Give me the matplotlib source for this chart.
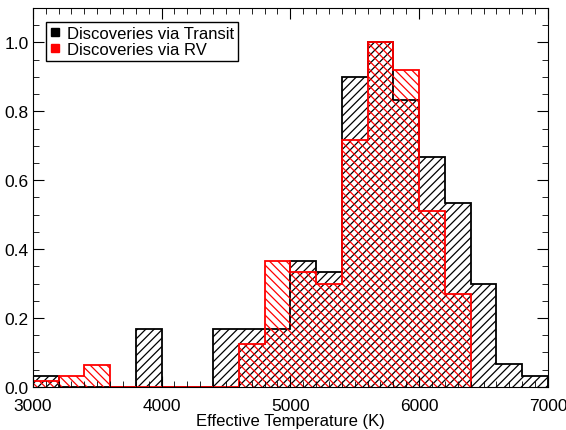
import numpy as np
import matplotlib.pyplot as plt
from matplotlib.lines import Line2D
from matplotlib.ticker import MultipleLocator

plt.rcParams['font.family'] = ['Liberation Sans', 'DejaVu Sans']
plt.rcParams['hatch.linewidth'] = 0.9

edges = np.arange(3000, 7001, 200)

transit = [0.033, 0, 0, 0, 0.167, 0, 0, 0.167, 0.167, 0.167,
           0.367, 0.333, 0.900, 1.000, 0.833, 0.667, 0.533, 0.300, 0.067, 0.033]
rv = [0.016, 0.033, 0.065, 0, 0, 0, 0, 0, 0.125, 0.365,
      0.333, 0.300, 0.717, 1.000, 0.920, 0.510, 0.270]

fig = plt.figure(figsize=(5.66, 4.31), dpi=100)
ax = fig.add_axes([0.058, 0.100, 0.910, 0.879])

ax.stairs(transit, edges, baseline=0, fill=False, edgecolor='black',
          hatch='////', linewidth=1.3)
ax.stairs(rv, edges[:len(rv) + 1], baseline=0, fill=False, edgecolor='red',
          hatch='\\\\\\\\', linewidth=1.3)

ax.set_xlim(3000, 7000)
ax.set_ylim(0, 1.1)
ax.xaxis.set_major_locator(MultipleLocator(1000))
ax.xaxis.set_minor_locator(MultipleLocator(100))
ax.yaxis.set_major_locator(MultipleLocator(0.2))
ax.yaxis.set_minor_locator(MultipleLocator(0.05))
ax.yaxis.set_major_formatter(plt.FormatStrFormatter('%.1f'))
ax.tick_params(which='both', direction='in', top=True, right=True, labelsize=12.5)
ax.tick_params(which='major', length=8)
ax.tick_params(which='minor', length=4)
ax.tick_params(axis='x', which='major', pad=8)
ax.tick_params(axis='y', which='major', pad=3)
ax.set_xlabel('Effective Temperature (K)', fontsize=12, labelpad=0)

handles = [Line2D([], [], ls='none', marker='s', color='black', markersize=6),
           Line2D([], [], ls='none', marker='s', color='red', markersize=6)]
ax.legend(handles, ['Discoveries via Transit', 'Discoveries via RV'],
          loc='upper left', fontsize=12, fancybox=False, edgecolor='black',
          framealpha=1, handlelength=0.6, handletextpad=0.4,
          borderpad=0.25, labelspacing=0.05, bbox_to_anchor=(0.01, 0.985))

fig.savefig('out.png', dpi=100)
